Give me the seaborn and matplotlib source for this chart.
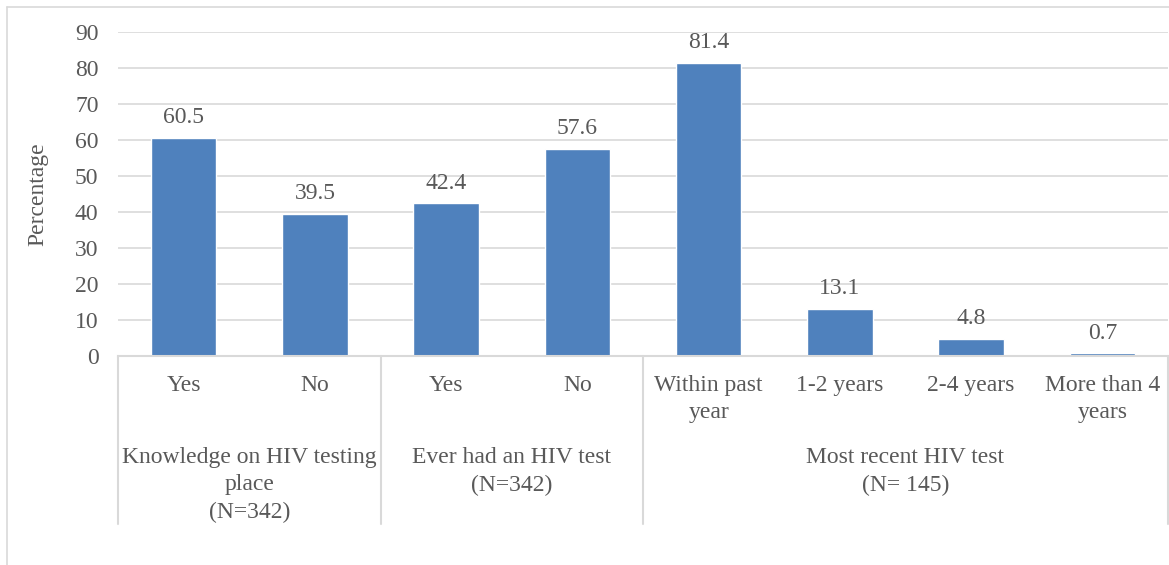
import pandas as pd
import matplotlib.pyplot as plt
import seaborn as sns
from matplotlib.lines import Line2D

# Data
categories = ["Yes", "No", "Yes", "No", "Within past\nyear", "1-2 years", "2-4 years", "More than 4\nyears"]
percentages = [60.5, 39.5, 42.4, 57.6, 81.4, 13.1, 4.8, 0.7]
groups = ["Knowledge on HIV testing\nplace\n(N=342)", "Ever had an HIV test\n(N=342)", "Most recent HIV test\n(N= 145)"]
group_sizes = [2, 2, 4]

BAR_COLOR = "#4F81BD"
TEXT_COLOR = "#595959"
GRID_COLOR = "#D9D9D9"
FONT = ["Liberation Serif", "DejaVu Serif"]
FS = 17

sns.set_theme(style="white")
plt.rcParams["font.family"] = FONT

df = pd.DataFrame({"pos": [str(i) for i in range(len(categories))], "pct": percentages})

W, H = 1169, 565
fig = plt.figure(figsize=(W / 100, H / 100), dpi=100)
ax = fig.add_axes([118 / W, 1 - 356 / H, 1050 / W, 324 / H])

sns.barplot(data=df, x="pos", y="pct", color=BAR_COLOR, width=0.5, saturation=1, ax=ax)

ax.set_ylim(0, 90)
ax.set_xlim(-0.5, len(categories) - 0.5)
ax.set_yticks(range(0, 91, 10))
ax.yaxis.grid(True, color=GRID_COLOR, linewidth=1.2)
ax.set_axisbelow(True)
ax.tick_params(axis="y", length=0, pad=14, labelsize=FS, labelcolor=TEXT_COLOR)
ax.tick_params(axis="x", length=0)
ax.set_xticks([])
ax.set_xlabel("")
ax.set_ylabel("Percentage", fontsize=FS, color=TEXT_COLOR, labelpad=19)
for s in ["top", "right", "left"]:
    ax.spines[s].set_visible(False)
ax.spines["bottom"].set_color(GRID_COLOR)
ax.spines["bottom"].set_linewidth(1.5)

# value labels
for p, v in zip(ax.patches, percentages):
    ax.annotate(f"{v:.1f}", (p.get_x() + p.get_width() / 2, v), xytext=(0, 7),
                textcoords="offset points", ha="center", va="bottom",
                fontsize=FS, color=TEXT_COLOR)

# multi-level category axis
trans = ax.get_xaxis_transform()
sep_bottom = -(524 - 356) / 324
for i, lab in enumerate(categories):
    ax.text(i, -(375 - 356) / 324, lab, transform=trans, ha="center", va="top",
            fontsize=FS, color=TEXT_COLOR, linespacing=1.4)

start = 0
edges = [-0.5]
for g, n in zip(groups, group_sizes):
    center = start + (n - 1) / 2
    ax.text(center, -(447 - 356) / 324, g, transform=trans, ha="center", va="top",
            fontsize=FS, color=TEXT_COLOR, linespacing=1.4)
    start += n
    edges.append(start - 0.5)

for e in edges:
    ax.add_line(Line2D([e, e], [0, sep_bottom], transform=trans, color=GRID_COLOR,
                       linewidth=1.5, clip_on=False))

# outer chart border (left and top edges visible)
fig.add_artist(Line2D([7 / W, 7 / W], [0, 1 - 7 / H], transform=fig.transFigure,
                      color=GRID_COLOR, linewidth=1.2))
fig.add_artist(Line2D([7 / W, 1], [1 - 7 / H, 1 - 7 / H], transform=fig.transFigure,
                      color=GRID_COLOR, linewidth=1.2))

fig.savefig("out.png", dpi=100)
